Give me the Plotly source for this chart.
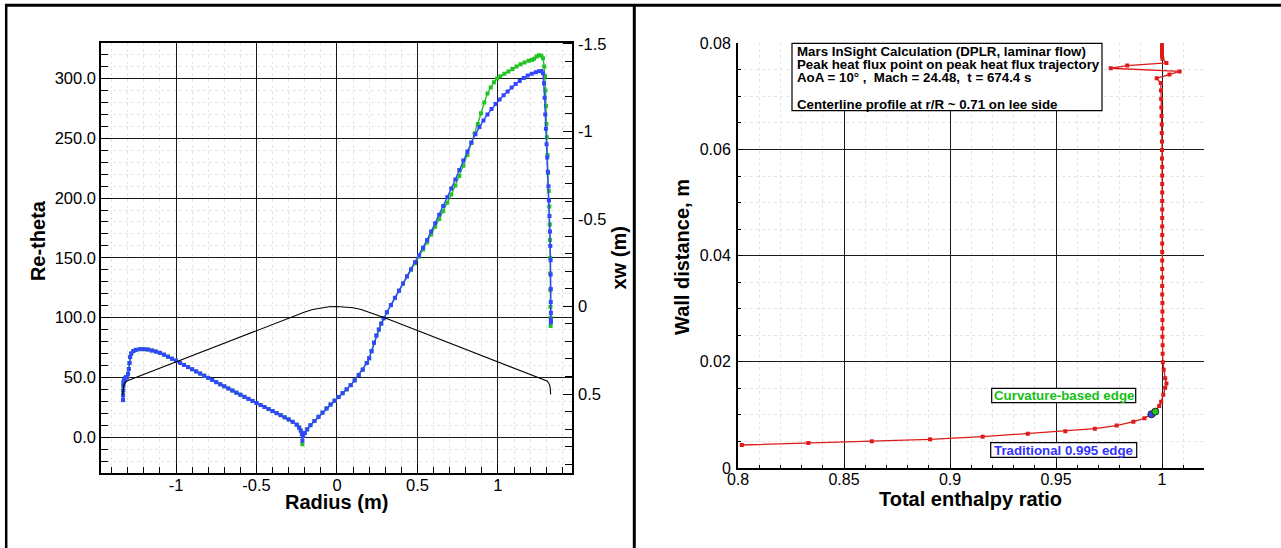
import plotly.graph_objects as go

# ---------------- data: left panel ----------------
# body profile (xw vs radius), right-hand axis
body_r = [-1.331, -1.330, -1.326, -1.318, -1.305, -1.29, -1.2, -1.0, -0.8, -0.644, -0.5, -0.4,
          -0.3, -0.25, -0.2, -0.15, -0.1, -0.05, 0.0, 0.05, 0.1, 0.15, 0.2, 0.25, 0.3, 0.4, 0.5,
          0.644, 0.8, 1.0, 1.2, 1.29, 1.305, 1.316, 1.323, 1.326, 1.327]
body_xw = [0.506, 0.48, 0.455, 0.438, 0.426, 0.420, 0.388, 0.315, 0.243, 0.19, 0.138, 0.102,
           0.066, 0.049, 0.032, 0.017, 0.0075, 0.002, 0.0, 0.002, 0.0075, 0.017, 0.032, 0.049,
           0.066, 0.102, 0.138, 0.19, 0.243, 0.315, 0.388, 0.42, 0.426, 0.438, 0.455, 0.48, 0.502]

# Re-theta, traditional 0.995 edge (blue)
blue_r = [-1.329, -1.329, -1.328, -1.327, -1.326, -1.323, -1.318, -1.312, -1.305, -1.298, -1.293,
          -1.289, -1.285, -1.278, -1.265, -1.25, -1.225, -1.2, -1.175, -1.15, -1.125, -1.1, -1.075,
          -1.05, -1.025, -1.0, -0.975, -0.95, -0.925, -0.9, -0.875, -0.85, -0.825, -0.8, -0.775,
          -0.75, -0.725, -0.7, -0.675, -0.65, -0.625, -0.6, -0.575, -0.55, -0.525, -0.5, -0.475,
          -0.45, -0.425, -0.4, -0.375, -0.35, -0.325, -0.3, -0.275, -0.25, -0.235, -0.225, -0.218,
          -0.215, -0.21, -0.2, -0.185, -0.165, -0.14, -0.115, -0.09, -0.065, -0.04, -0.015, 0.01,
          0.035, 0.06, 0.085, 0.11, 0.135, 0.16, 0.185, 0.2, 0.215, 0.23, 0.245, 0.26, 0.275, 0.29,
          0.31, 0.335, 0.36, 0.385, 0.41, 0.435, 0.46, 0.485, 0.51, 0.535, 0.56, 0.585, 0.61, 0.635,
          0.66, 0.685, 0.71, 0.735, 0.76, 0.785, 0.81, 0.835, 0.86, 0.885, 0.91, 0.935, 0.96, 0.985,
          1.01, 1.035, 1.06, 1.085, 1.11, 1.135, 1.16, 1.185, 1.21, 1.235, 1.255, 1.27, 1.28, 1.286,
          1.29, 1.294, 1.298, 1.302, 1.306, 1.31, 1.314, 1.317, 1.32, 1.323, 1.325, 1.327, 1.327,
          1.328, 1.328, 1.329, 1.329, 1.329]
blue_re = [31, 35, 39, 43, 46, 48, 49, 50, 50, 53, 57,
           62, 67, 70, 72, 73, 73.6, 73.6, 73.3, 72.5, 71.6, 70.5, 69,
           67.3, 65.6, 64, 62.2, 60.4, 58.6, 56.8, 55, 53.2, 51.4, 49.6, 47.8,
           46, 44.2, 42.5, 40.7, 39, 37.2, 35.5, 33.7, 32, 30.3, 28.6, 26.9,
           25.2, 23.5, 21.8, 20.1, 18.4, 16.6, 14.8, 12.8, 10.4, 8, 5.5, 2.5,
           -3, 1, 3.5, 6.5, 10, 13.5, 17, 20.5, 24, 27.3, 30.5, 33.6,
           36.8, 40, 43.5, 47.5, 52, 56.5, 62, 66, 72, 79, 85, 90, 95, 99.5,
           104.5, 110.5, 116.5, 122.5, 128.5, 134.5, 140.5, 146.3, 152, 158.5, 165, 172, 179, 186,
           193.3, 200.6, 208, 215.5, 223.5, 231.5, 239, 246.5, 253.5, 259.5, 265, 270, 274.5, 278.8,
           282.5, 286, 289.2, 292.5, 295.5, 298, 300.5, 302.5, 304, 305.2, 306.2, 306.3, 304.5, 296,
           284, 270, 258, 245, 234, 222, 210, 198, 185, 172, 160, 148, 136,
           124, 113, 104, 98, 96]

# Re-theta, curvature-based edge (green)
green_r = [-1.329, -1.329, -1.328, -1.327, -1.326, -1.323, -1.318, -1.312, -1.305, -1.298, -1.293,
           -1.289, -1.285, -1.278, -1.265, -1.25, -1.225, -1.2, -1.175, -1.15, -1.125, -1.1, -1.075,
           -1.05, -1.025, -1.0, -0.975, -0.95, -0.925, -0.9, -0.875, -0.85, -0.825, -0.8, -0.775,
           -0.75, -0.725, -0.7, -0.675, -0.65, -0.625, -0.6, -0.575, -0.55, -0.525, -0.5, -0.475,
           -0.45, -0.425, -0.4, -0.375, -0.35, -0.325, -0.3, -0.275, -0.25, -0.235, -0.225, -0.218,
           -0.215, -0.21, -0.2, -0.185, -0.165, -0.14, -0.115, -0.09, -0.065, -0.04, -0.015, 0.01,
           0.035, 0.06, 0.085, 0.11, 0.135, 0.16, 0.185, 0.2, 0.215, 0.23, 0.245, 0.26, 0.275, 0.29,
           0.31, 0.335, 0.36, 0.385, 0.41, 0.435, 0.46, 0.485, 0.51, 0.535, 0.56, 0.585, 0.61, 0.635,
           0.66, 0.685, 0.71, 0.735, 0.76, 0.785, 0.81, 0.835, 0.855, 0.875, 0.895, 0.915, 0.935,
           0.955, 0.975, 0.995, 1.015, 1.04, 1.065, 1.09, 1.115, 1.14, 1.165, 1.19, 1.21, 1.225, 1.24,
           1.255, 1.27, 1.28, 1.287, 1.292, 1.295, 1.298, 1.301, 1.304, 1.308, 1.312, 1.316, 1.319,
           1.322, 1.323, 1.325, 1.325, 1.326, 1.326, 1.327, 1.327]
green_re = [31, 35, 39, 43, 46, 48, 49, 50, 50, 53, 57,
            62, 67, 70, 72, 73, 73.6, 73.6, 73.3, 72.5, 71.6, 70.5, 69,
            67.3, 65.6, 64, 62.2, 60.4, 58.6, 56.8, 55, 53.2, 51.4, 49.6, 47.8,
            46, 44.2, 42.5, 40.7, 39, 37.2, 35.5, 33.7, 32, 30.3, 28.6, 26.9,
            25.2, 23.5, 21.8, 20.1, 18.4, 16.6, 14.8, 12.8, 10.4, 8, 5.5, 2.5,
            -6, 1, 3.5, 6.5, 10, 13.5, 17, 20.5, 24, 27.3, 30.5, 33.6,
            36.8, 40, 43.5, 47.5, 52, 56.5, 62, 66, 72, 79, 85, 90, 95, 99.5,
            104.5, 110.5, 116.5, 122.5, 128.5, 134.5, 140, 145.5, 151, 157, 163, 169.5, 176, 182.5,
            189, 196, 203, 210.5, 218.5, 227, 236, 246, 254, 262, 271, 280, 287.5,
            292.5, 297, 300, 302, 304, 306, 308, 310, 312, 313.5, 314.8, 315.5, 316.5, 318.5,
            319.5, 319, 317, 310, 302, 290, 277, 262, 251, 236, 221, 206, 193,
            178, 165, 150, 137, 123, 109, 100, 93]

r_tickvals = [-1, -0.5, 0, 0.5, 1]
r_ticktext = ["-1", "-0.5", "0", "0.5", "1"]
re_tickvals = [0, 50, 100, 150, 200, 250, 300]
re_ticktext = ["0.0", "50.0", "100.0", "150.0", "200.0", "250.0", "300.0"]
xw_tickvals = [-1.5, -1, -0.5, 0, 0.5]
xw_ticktext = ["-1.5", "-1", "-0.5", "0", "0.5"]

# ---------------- data: right panel ----------------
h_ratio = [0.8018, 0.8332, 0.8631, 0.8906, 0.9154, 0.9367, 0.9544, 0.9683, 0.9786, 0.9865, 0.9917,
           0.9950, 0.9968, 0.9987, 0.9996, 1.0006, 1.0015, 1.0021, 1.0015, 1.0008, 1.0004,
           1.0003, 1.0003, 1.0002, 1.0002, 1.0002, 1.0002, 1.0002, 1.0001, 1.0001, 1.0001, 1.0001,
           1.0001, 1.0001, 1.0001, 1.0001, 1.0001, 1.0001, 1.0001, 1.0001, 1.0001, 1.0001, 1.0001,
           1.0001, 1.0000, 1.0000, 1.0000, 0.9999, 0.9999, 0.9998, 0.9997, 0.9996, 0.9995,
           0.9994, 0.9975, 1.0035, 1.0083, 0.9758, 0.9836, 1.0021, 1.0002, 1.0, 1.0, 1.0, 1.0,
           1.0, 1.0]
wall_d = [0.00433, 0.00471, 0.00503, 0.00540, 0.00590, 0.00647, 0.00691, 0.00741, 0.00800, 0.00873,
          0.00936, 0.01012, 0.01061, 0.01168, 0.0125, 0.0138, 0.0151, 0.0159, 0.0169, 0.0185, 0.0199,
          0.0215, 0.0231, 0.0247, 0.0263, 0.0279, 0.0295, 0.0311, 0.0327, 0.0343, 0.0359, 0.0375,
          0.0391, 0.0407, 0.0423, 0.0439, 0.0455, 0.0471, 0.0487, 0.0503, 0.0519, 0.0535, 0.0551,
          0.0567, 0.0583, 0.0599, 0.0615, 0.0631, 0.0647, 0.0663, 0.0679, 0.0695, 0.0711,
          0.0725, 0.0734, 0.0741, 0.0747, 0.0753, 0.0758, 0.0763, 0.0771, 0.0776, 0.0781, 0.0786,
          0.0791, 0.0796, 0.0801]
trad_edge = (0.9950, 0.01012)
curv_edge = (0.9968, 0.01061)

h_tickvals = [0.8, 0.85, 0.9, 0.95, 1.0]
h_ticktext = ["0.8", "0.85", "0.9", "0.95", "1"]
d_tickvals = [0, 0.02, 0.04, 0.06, 0.08]
d_ticktext = ["0", "0.02", "0.04", "0.06", "0.08"]

header_lines = [
    "Mars InSight Calculation (DPLR, laminar flow)",
    "Peak heat flux point on peak heat flux trajectory",
    "AoA = 10°\u00a0,\u00a0\u00a0Mach = 24.48,\u00a0\u00a0t = 674.4 s",
    "Centerline profile at r/R ~ 0.71 on lee side",
]

# ---------------- figure ----------------
W, H = 1281, 548
FONT = "Liberation Sans, Arial, Helvetica, sans-serif"
BLUE = "#3346ff"
GREEN = "#22c322"
RED = "#de1a1a"


def px(x):
    return x / W


def py(y):
    return 1 - y / H


fig = go.Figure()

fig.add_trace(go.Scatter(x=body_r, y=body_xw, xaxis="x", yaxis="y2", mode="lines",
                         line=dict(color="black", width=1.1), showlegend=False, hoverinfo="skip"))
fig.add_trace(go.Scatter(x=green_r, y=green_re, xaxis="x", yaxis="y", mode="lines+markers",
                         line=dict(color=GREEN, width=1.4),
                         marker=dict(symbol="square", size=4, color=GREEN), showlegend=False))
fig.add_trace(go.Scatter(x=blue_r, y=blue_re, xaxis="x", yaxis="y", mode="lines+markers",
                         line=dict(color=BLUE, width=1.4),
                         marker=dict(symbol="square", size=4, color=BLUE), showlegend=False))

fig.add_trace(go.Scatter(x=h_ratio, y=wall_d, xaxis="x2", yaxis="y3", mode="lines+markers",
                         line=dict(color=RED, width=1.3),
                         marker=dict(symbol="square", size=4, color=RED), showlegend=False))
fig.add_trace(go.Scatter(x=[trad_edge[0]], y=[trad_edge[1]], xaxis="x2", yaxis="y3", mode="markers",
                         marker=dict(symbol="circle", size=7, color=BLUE, line=dict(color="#222", width=1)),
                         showlegend=False))
fig.add_trace(go.Scatter(x=[curv_edge[0]], y=[curv_edge[1]], xaxis="x2", yaxis="y3", mode="markers",
                         marker=dict(symbol="circle", size=7, color=GREEN, line=dict(color="#222", width=1)),
                         showlegend=False))

grid_col = "#1a1a1a"
minor_grid = "#e4e4e4"
tick_font_l = dict(family=FONT, size=16.5, color="black")
tick_font_r = dict(family=FONT, size=16, color="black")

fig.update_layout(
    autosize=True,
    margin=dict(l=0, r=0, t=0, b=0, autoexpand=False),
    paper_bgcolor="white", plot_bgcolor="white",
    showlegend=False,
    xaxis=dict(domain=[px(101), px(572)], range=[-1.466, 1.46], anchor="y",
               tickmode="array", tickvals=r_tickvals, ticktext=r_ticktext,
               ticks="inside", ticklen=9, tickcolor="black", tickfont=tick_font_l,
               ticklabelstandoff=-4,
               showgrid=True, gridcolor=grid_col, gridwidth=1, zeroline=False,
               showline=True, mirror=True, linecolor="black", linewidth=1.5,
               minor=dict(tickmode="linear", tick0=0, dtick=0.1, ticks="inside", ticklen=6,
                          tickcolor="black", showgrid=True, gridcolor=minor_grid, griddash="dot",
                          gridwidth=1)),
    yaxis=dict(domain=[py(473), py(42.7)], range=[-30, 330], anchor="x",
               tickmode="array", tickvals=re_tickvals, ticktext=re_ticktext,
               ticks="inside", ticklen=9, tickcolor="black", tickfont=tick_font_l,
               showgrid=True, gridcolor=grid_col, gridwidth=1, zeroline=False,
               showline=True, mirror=True, linecolor="black", linewidth=1.5,
               minor=dict(tickmode="linear", tick0=0, dtick=10, ticks="inside", ticklen=7,
                          tickcolor="black", showgrid=True, gridcolor=minor_grid, griddash="dot",
                          gridwidth=1)),
    yaxis2=dict(overlaying="y", side="right", anchor="x", range=[0.951, -1.506],
                tickmode="array", tickvals=xw_tickvals, ticktext=xw_ticktext,
                ticks="inside", ticklen=9, tickcolor="black", tickfont=tick_font_l,
                ticklabelstandoff=5,
                showgrid=False, zeroline=False, showline=False,
                minor=dict(tickmode="linear", tick0=0, dtick=0.1, ticks="inside", ticklen=7,
                           tickcolor="black", showgrid=False)),
    xaxis2=dict(domain=[px(738), px(1204.4)], range=[0.8, 1.02], anchor="y3",
                tickmode="array", tickvals=h_tickvals, ticktext=h_ticktext,
                ticks="inside", ticklen=5, tickcolor="black", tickfont=tick_font_r,
                ticklabelstandoff=-4,
                showgrid=True, gridcolor=grid_col, gridwidth=1, zeroline=False,
                showline=True, mirror=False, linecolor="black", linewidth=2,
                minor=dict(tickmode="linear", tick0=0.8, dtick=0.01, ticks="inside", ticklen=3,
                           tickcolor="black", showgrid=True, gridcolor=minor_grid, griddash="dot",
                           gridwidth=1)),
    yaxis3=dict(domain=[py(468), py(43.3)], range=[0, 0.08], anchor="x2",
                tickmode="array", tickvals=d_tickvals, ticktext=d_ticktext,
                ticks="inside", ticklen=5, tickcolor="black", tickfont=tick_font_r,
                ticklabelstandoff=2,
                showgrid=True, gridcolor=grid_col, gridwidth=1, zeroline=False,
                showline=True, mirror=False, linecolor="black", linewidth=2,
                minor=dict(tickmode="linear", tick0=0, dtick=0.005, ticks="inside", ticklen=3,
                           tickcolor="black", showgrid=True, gridcolor=minor_grid, griddash="dot",
                           gridwidth=1)),
)

shapes = [
    # frame borders
    dict(type="line", xref="paper", yref="paper", x0=px(5), x1=1, y0=py(5.3), y1=py(5.3),
         line=dict(color="black", width=3)),
    dict(type="line", xref="paper", yref="paper", x0=px(6.2), x1=px(6.2), y0=0, y1=py(4),
         line=dict(color="black", width=2.5)),
    dict(type="line", xref="paper", yref="paper", x0=px(634.3), x1=px(634.3), y0=0, y1=py(4),
         line=dict(color="black", width=3)),
    # text boxes
    dict(type="rect", xref="paper", yref="paper", x0=px(792), x1=px(1102), y0=py(110.7), y1=py(43.3),
         line=dict(color="black", width=1.2), fillcolor="white"),
    dict(type="rect", xref="paper", yref="paper", x0=px(991.7), x1=px(1135.7), y0=py(402.7), y1=py(388.3),
         line=dict(color="black", width=1.2), fillcolor="white"),
    dict(type="rect", xref="paper", yref="paper", x0=px(990.7), x1=px(1136.7), y0=py(457.3), y1=py(442.7),
         line=dict(color="black", width=1.2), fillcolor="white"),
]
fig.update_layout(shapes=shapes)

title_font = dict(family=FONT, size=20, color="black", weight="bold")
ann = [
    dict(text="Radius (m)", x=px(336.8), y=py(502), font=title_font),
    dict(text="Re-theta", x=px(38.8), y=py(240.3), textangle=-90, font=title_font),
    dict(text="xw (m)", x=px(618), y=py(258.5), textangle=-90, font=title_font),
    dict(text="Total enthalpy ratio", x=px(971), y=py(499), font=title_font),
    dict(text="Wall distance, m", x=px(682), y=py(257), textangle=-90, font=title_font),
    dict(text="Curvature-based edge", x=px(1063.7), y=py(395.5),
         font=dict(family=FONT, size=13.3, color="#16c016", weight="bold")),
    dict(text="Traditional 0.995 edge", x=px(1063.7), y=py(450),
         font=dict(family=FONT, size=13.3, color="#3333ff", weight="bold")),
]
for line_text, yc in zip(header_lines, [51, 65, 77.5, 104]):
    ann.append(dict(text=line_text, x=px(795), y=py(yc), xanchor="left",
                    font=dict(family=FONT, size=13.3, color="black", weight="bold")))
for a in ann:
    a.setdefault("xanchor", "center")
    a.setdefault("yanchor", "middle")
    a.update(xref="paper", yref="paper", showarrow=False)
fig.update_layout(annotations=ann)

post = ("document.documentElement.style.margin='0';document.body.style.margin='0';"
        "document.body.style.overflow='hidden';")

fig.write_html("out.html",
               default_width="1281px;position:absolute;left:0px;top:0px",
               default_height="548px",
               config={"responsive": False}, post_script=post)
